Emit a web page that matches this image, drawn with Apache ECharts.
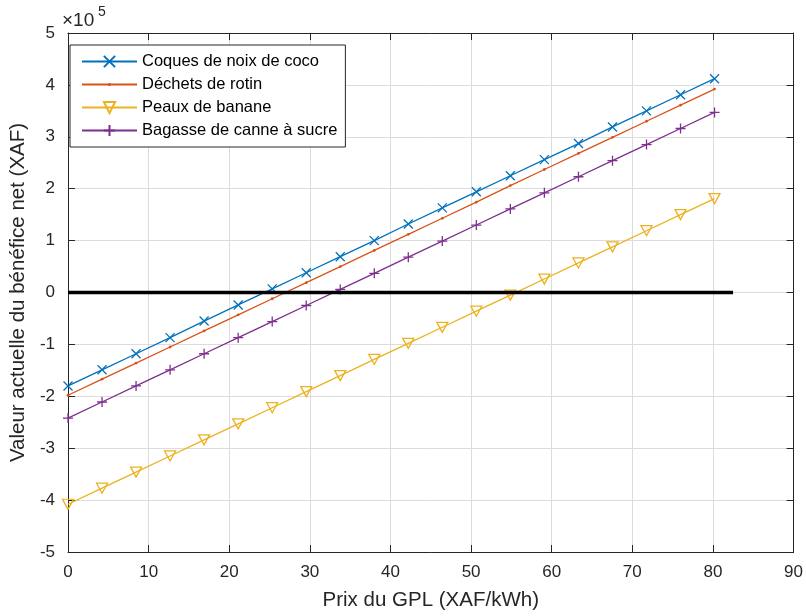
<!DOCTYPE html>
<html>
<head>
<meta charset="utf-8">
<script src="https://cdn.jsdelivr.net/npm/echarts@6/dist/echarts.min.js"></script>
<style>
html,body{margin:0;padding:0;background:#fff;}
#chart{width:806px;height:616px;}
</style>
</head>
<body>
<div id="chart"></div>
<script>
// Prix du GPL (XAF/kWh)
const prixGPL = [0, 4.22, 8.44, 12.66, 16.88, 21.11, 25.33, 29.55, 33.77, 37.99, 42.21, 46.43, 50.65, 54.87, 59.09, 63.32, 67.54, 71.76, 75.98, 80.2];
// Valeur actuelle du bénéfice net (XAF)
const coquesCoco = [-180000, -149000, -118000, -87000, -55000, -24000, 7000, 38000, 69000, 100000, 132000, 163000, 194000, 225000, 256000, 287000, 319000, 350000, 381000, 412000];
const dechetsRotin = [-198000, -167000, -136000, -105000, -74000, -43000, -12000, 19000, 50000, 81000, 112000, 143000, 174000, 206000, 237000, 268000, 299000, 330000, 361000, 392000];
const peauxBanane = [-408000, -377000, -346000, -315000, -284000, -253000, -222000, -191000, -160000, -129000, -98000, -67000, -36000, -5000, 26000, 57000, 88000, 119000, 150000, 181000];
const bagasse = [-242000, -211000, -180000, -149000, -118000, -87000, -56000, -25000, 6000, 37000, 68000, 99000, 130000, 161000, 192000, 223000, 254000, 285000, 316000, 347000];
const seriesNames = ['Coques de noix de coco', 'Déchets de rotin', 'Peaux de banane', 'Bagasse de canne à sucre'];
const zeroLineX = [0, 82.5];
const zeroLineY = [0, 0];
const xTicks = {min: 0, max: 90, interval: 10};
const yTicks = {min: -500000, max: 500000, interval: 100000};

const FONT = 'Liberation Sans, Arial, Helvetica, sans-serif';
const colors = ['#0072BD', '#D95319', '#EDB120', '#7E2F8E'];
const symX = 'path://M0,0L10,10M10,0L0,10';
const symPlus = 'path://M5,0L5,10M0,5L10,5';
const symTri = 'path://M0,0L10,0L5,8.66Z';
const symDot = 'path://M0,0M10,10M3.6,5a1.4,1.4 0 1,0 2.8,0a1.4,1.4 0 1,0 -2.8,0Z';

function pairs(xs, ys){ return xs.map((x,i)=>[x, ys[i]]); }

function mkSeries(name, ys, color, symbol, size, fill, bw){
  return {
    name: name, type: 'line', data: pairs(prixGPL, ys),
    xAxisIndex: 0, yAxisIndex: 0,
    symbol: symbol, symbolSize: size, showAllSymbol: true,
    lineStyle: {color: color, width: 1.3},
    itemStyle: {color: fill, borderColor: color, borderWidth: bw},
    emphasis: {disabled: true},
    animation: false, z: 3
  };
}

const chart = echarts.init(document.getElementById('chart'), null, {renderer: 'canvas'});
function axisCommon(){
  return {
    axisLine: {show: true, onZero: false, lineStyle: {color: '#262626', width: 1}},
    axisTick: {show: true, inside: true, length: 7, lineStyle: {color: '#262626'}}
  };
}
const gridLine = {show: true, lineStyle: {color: '#dcdcdc', width: 1}};
chart.setOption({
  animation: false,
  backgroundColor: '#fff',
  grid: {left: 62, right: 11, top: 33, bottom: 63, containLabel: false},
  legend: {
    orient: 'vertical', left: 70, top: 45,
    data: seriesNames,
    backgroundColor: '#fff', borderColor: '#262626', borderWidth: 1, borderRadius: 0,
    padding: [8, 8, 8, 11],
    itemWidth: 55, itemHeight: 14, itemGap: 6,
    textStyle: {fontFamily: FONT, fontSize: 16.5, color: '#000'},
    selectedMode: false
  },
  xAxis: [
    Object.assign({
      type: 'value', position: 'bottom', min: xTicks.min, max: xTicks.max, interval: xTicks.interval,
      name: 'Prix du GPL (XAF/kWh)', nameLocation: 'middle', nameGap: 38,
      nameTextStyle: {fontFamily: FONT, fontSize: 20.5, color: '#262626'},
      axisLabel: {fontFamily: FONT, fontSize: 17, color: '#262626', margin: 12},
      splitLine: gridLine
    }, axisCommon()),
    Object.assign({
      type: 'value', position: 'top', min: xTicks.min, max: xTicks.max, interval: xTicks.interval,
      axisLabel: {show: false}, splitLine: {show: false}
    }, axisCommon())
  ],
  yAxis: [
    Object.assign({
      type: 'value', position: 'left', min: yTicks.min, max: yTicks.max, interval: yTicks.interval,
      name: 'Valeur actuelle du bénéfice net (XAF)', nameLocation: 'middle', nameGap: 29, nameRotate: 90,
      nameTextStyle: {fontFamily: FONT, fontSize: 20.5, color: '#262626'},
      axisLabel: {fontFamily: FONT, fontSize: 17, color: '#262626', margin: 13,
        formatter: v => String(Math.round(v / 100000))},
      splitLine: gridLine
    }, axisCommon()),
    Object.assign({
      type: 'value', position: 'right', min: yTicks.min, max: yTicks.max, interval: yTicks.interval,
      axisLabel: {show: false}, splitLine: {show: false}
    }, axisCommon())
  ],
  graphic: [
    {type: 'text', left: 62, top: 11, style: {text: '×10', font: '19px ' + FONT, fill: '#262626'}},
    {type: 'text', left: 98, top: 5, style: {text: '5', font: '14px ' + FONT, fill: '#262626'}}
  ],
  series: [
    mkSeries(seriesNames[0], coquesCoco, colors[0], symX, 9, colors[0], 1.3),
    mkSeries(seriesNames[1], dechetsRotin, colors[1], symDot, 10, colors[1], 0),
    mkSeries(seriesNames[2], peauxBanane, colors[2], symTri, [11, 10], 'rgba(255,255,255,0)', 1.3),
    mkSeries(seriesNames[3], bagasse, colors[3], symPlus, 10, colors[3], 1.3),
    {
      name: 'zero', type: 'line', data: pairs(zeroLineX, zeroLineY), symbol: 'none',
      lineStyle: {color: '#000', width: 3.5}, z: 4, silent: true, animation: false
    }
  ]
});
</script>
</body>
</html>
